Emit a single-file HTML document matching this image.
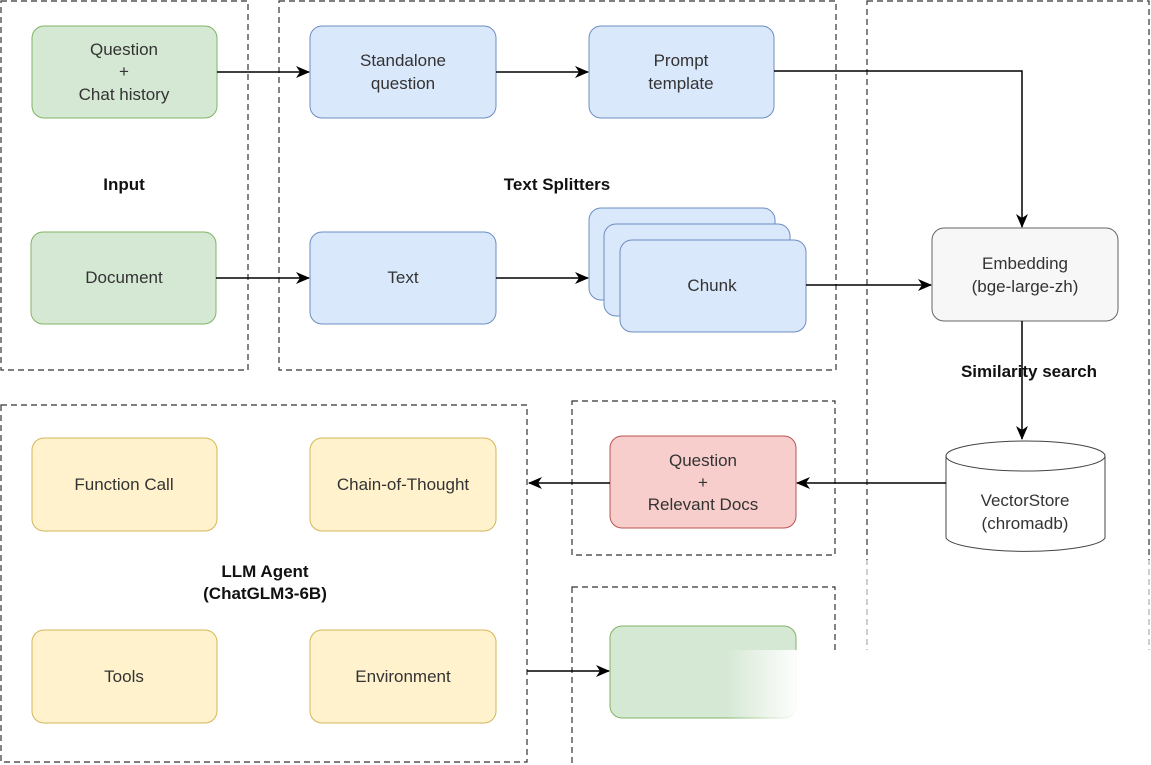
<!DOCTYPE html><html><head><style>body{margin:0;background:#fff}svg{display:block}text{font-family:"Liberation Sans",sans-serif;font-size:17px;fill:#333;text-anchor:middle}.b{font-weight:bold;fill:#111}</style></head><body>
<svg width="1151" height="765" viewBox="0 0 1151 765">
<defs><marker id="a" markerWidth="14" markerHeight="12" refX="13" refY="6" orient="auto" markerUnits="userSpaceOnUse"><path d="M0,0L14,6L0,12L4,6z" fill="#000"/></marker>
<linearGradient id="fade" x1="0" x2="1"><stop offset="0.15" stop-color="#fff" stop-opacity="0"/><stop offset="0.3" stop-color="#fff"/></linearGradient></defs>
<g fill="none" stroke="#333" stroke-dasharray="6,4" stroke-width="1.2">
<rect x="1" y="1" width="247" height="369"/>
<rect x="279" y="1" width="557" height="369"/>
<rect x="867" y="1" width="282" height="800"/>
<rect x="1" y="405" width="526" height="357"/>
<rect x="572" y="401" width="263" height="154"/>
<rect x="572" y="587" width="263" height="200"/>
</g>
<g stroke-width="1">
<rect x="32" y="26" width="185" height="92" rx="12" fill="#d5e8d4" stroke="#82b366"/>
<rect x="31" y="232" width="185" height="92" rx="12" fill="#d5e8d4" stroke="#82b366"/>
<rect x="310" y="26" width="186" height="92" rx="12" fill="#dae8fc" stroke="#6c8ebf"/>
<rect x="589" y="26" width="185" height="92" rx="12" fill="#dae8fc" stroke="#6c8ebf"/>
<rect x="310" y="232" width="186" height="92" rx="12" fill="#dae8fc" stroke="#6c8ebf"/>
<rect x="589" y="208" width="186" height="92" rx="12" fill="#dae8fc" stroke="#6c8ebf"/>
<rect x="604" y="224" width="186" height="92" rx="12" fill="#dae8fc" stroke="#6c8ebf"/>
<rect x="620" y="240" width="186" height="92" rx="12" fill="#dae8fc" stroke="#6c8ebf"/>
<rect x="932" y="228" width="186" height="93" rx="12" fill="#f7f7f7" stroke="#666"/>
<rect x="610" y="436" width="186" height="92" rx="12" fill="#f8cecc" stroke="#b85450"/>
<rect x="32" y="438" width="185" height="93" rx="12" fill="#fff2cc" stroke="#d6b656"/>
<rect x="310" y="438" width="186" height="93" rx="12" fill="#fff2cc" stroke="#d6b656"/>
<rect x="32" y="630" width="185" height="93" rx="12" fill="#fff2cc" stroke="#d6b656"/>
<rect x="310" y="630" width="186" height="93" rx="12" fill="#fff2cc" stroke="#d6b656"/>
<rect x="610" y="626" width="186" height="92" rx="12" fill="#d5e8d4" stroke="#82b366"/>
<path d="M946,456 v82 a80,15 0 0 0 159,0 v-82" fill="#fff" stroke="#444"/>
<ellipse cx="1025.5" cy="456" rx="79.5" ry="15" fill="#fff" stroke="#444"/>
</g>
<rect x="650" y="650" width="501" height="115" fill="url(#fade)"/>
<rect x="840" y="560" width="311" height="90" fill="#fff" opacity="0.6"/>
<g stroke="#000" stroke-width="1.5" fill="none" marker-end="url(#a)">
<path d="M217,72H309"/><path d="M496,72H588"/><path d="M774,71H1022V227"/>
<path d="M216,278H309"/><path d="M496,278H588"/><path d="M806,285H931"/>
<path d="M1022,321V439"/><path d="M946,483H797"/><path d="M610,483H529"/><path d="M527,671H609"/>
</g>
<text x="124" y="55">Question</text><text x="124" y="77">+</text><text x="124" y="100">Chat history</text>
<text x="124" y="283">Document</text>
<text x="403" y="66">Standalone</text><text x="403" y="89">question</text>
<text x="681" y="66">Prompt</text><text x="681" y="89">template</text>
<text x="403" y="283">Text</text><text x="712" y="291">Chunk</text>
<text x="1025" y="269">Embedding</text><text x="1025" y="292">(bge-large-zh)</text>
<text x="1025" y="506">VectorStore</text><text x="1025" y="529">(chromadb)</text>
<text x="703" y="466">Question</text><text x="703" y="488">+</text><text x="703" y="510">Relevant Docs</text>
<text x="124" y="490">Function Call</text><text x="403" y="490">Chain-of-Thought</text>
<text x="124" y="682">Tools</text><text x="403" y="682">Environment</text>
<text class="b" x="124" y="190">Input</text><text class="b" x="557" y="190">Text Splitters</text>
<text class="b" x="1029" y="377">Similarity search</text>
<text class="b" x="265" y="577">LLM Agent</text><text class="b" x="265" y="599">(ChatGLM3-6B)</text>
</svg></body></html>
